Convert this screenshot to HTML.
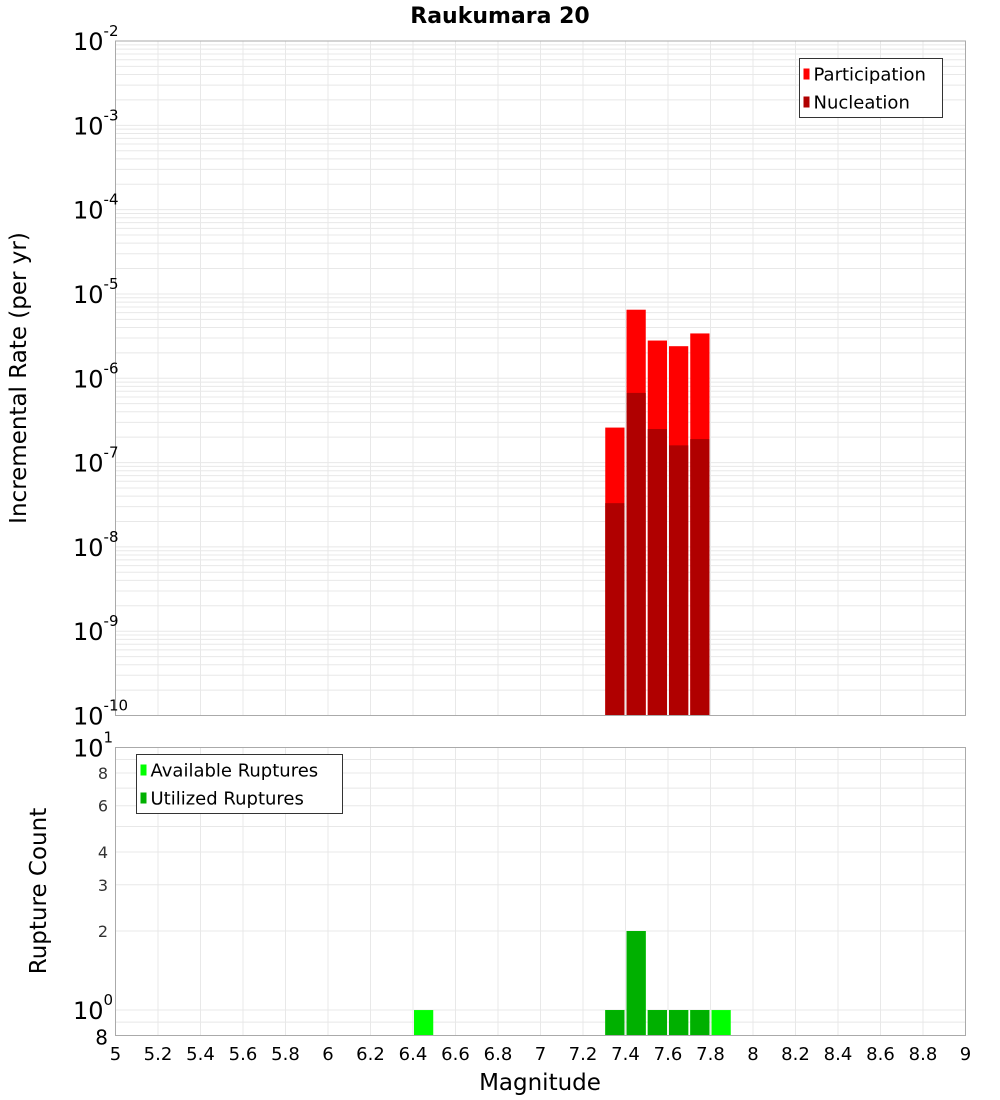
<!DOCTYPE html>
<html><head><meta charset="utf-8"><style>
html,body{margin:0;padding:0;background:#fff;}
svg{display:block;font-family:"DejaVu Sans","Liberation Sans",sans-serif;}
</style></head><body>
<svg id="chart" width="1000" height="1100" viewBox="0 0 1000 1100" xmlns="http://www.w3.org/2000/svg">
<text x="500" y="23" text-anchor="middle" font-size="22" font-weight="bold">Raukumara 20</text>
<g id="topPlot"></g>
<g id="botPlot"></g>
<text transform="translate(26,378) rotate(-90)" text-anchor="middle" font-size="23">Incremental Rate (per yr)</text>
<text transform="translate(46,891) rotate(-90)" text-anchor="middle" font-size="23">Rupture Count</text>
<text x="540" y="1090" text-anchor="middle" font-size="23">Magnitude</text>
</svg>
<script>
const magBins = [6.45, 7.35, 7.45, 7.55, 7.65, 7.75, 7.85];
const rateMags = [7.35, 7.45, 7.55, 7.65, 7.75];
const participation = [2.6e-7, 6.5e-6, 2.8e-6, 2.4e-6, 3.4e-6];
const nucleation = [3.3e-8, 6.7e-7, 2.5e-7, 1.6e-7, 1.9e-7];
const available = [1, 1, 2, 1, 1, 1, 1];
const utilized = [0, 1, 2, 1, 1, 1, 0];
const xTicks = [5,5.2,5.4,5.6,5.8,6,6.2,6.4,6.6,6.8,7,7.2,7.4,7.6,7.8,8,8.2,8.4,8.6,8.8,9];
const rateDecades = [-2,-3,-4,-5,-6,-7,-8,-9,-10];
const countMinorTicks = [8,6,4,3,2];

const NS="http://www.w3.org/2000/svg";
const L=115.5,R=965.5,T1=41,B1=715.5,T2=747.5,B2=1035.5;
const xs=m=>L+(m-5)/4*(R-L);
const yTop=v=>T1+(-2-Math.log10(v))/8*(B1-T1);
const cMin=0.8,cMax=10;
const yBot=v=>T2+(Math.log10(cMax)-Math.log10(v))/(Math.log10(cMax)-Math.log10(cMin))*(B2-T2);
function mk(tag,attrs,parent,txt){const e=document.createElementNS(NS,tag);for(const k in attrs)e.setAttribute(k,attrs[k]);if(txt!==undefined)e.textContent=txt;parent.appendChild(e);return e;}
const topG=document.getElementById('topPlot'),botG=document.getElementById('botPlot');
const grid='#e8e8e8';
for(let d=-10;d<-2;d++){for(let k=1;k<10;k++){const y=yTop(k*Math.pow(10,d));
 const g=mk('line',{x1:L,x2:R,y1:y,y2:y,stroke:grid,'stroke-width':1},topG);
 
 }}
xTicks.forEach(m=>{const x=xs(m);
 const g=mk('line',{x1:x,x2:x,y1:T1,y2:B1,stroke:grid},topG);
 
 
 const g2=mk('line',{x1:x,x2:x,y1:T2,y2:B2,stroke:grid},botG);
 
 });
[0.9,1,2,3,4,5,6,7,8,9].forEach(v=>{const y=yBot(v);const g=mk('line',{x1:L,x2:R,y1:y,y2:y,stroke:grid},botG);
 
 });
const bw=(R-L)/40;
rateMags.forEach((m,i)=>{const x=xs(m)-bw/2+1;
 const p=mk('rect',{x:x,y:yTop(participation[i]),width:bw-2,height:B1-yTop(participation[i]),fill:'#ff0000'},topG);
 
 
 const n=mk('rect',{x:x,y:yTop(nucleation[i]),width:bw-2,height:B1-yTop(nucleation[i]),fill:'#b00000'},topG);
 
 });
magBins.forEach((m,i)=>{const x=xs(m)-bw/2+1;
 if(available[i]>0){const a=mk('rect',{x:x,y:yBot(available[i]),width:bw-2,height:B2-yBot(available[i]),fill:'#00ff00'},botG);
 
 }
 if(utilized[i]>0){const u=mk('rect',{x:x,y:yBot(utilized[i]),width:bw-2,height:B2-yBot(utilized[i]),fill:'#00b000'},botG);
 
 }});
const f1=mk('rect',{x:L,y:T1,width:R-L,height:B1-T1,fill:'none',stroke:'#aaa'},topG);


const f2=mk('rect',{x:L,y:T2,width:R-L,height:B2-T2,fill:'none',stroke:'#aaa'},botG);


rateDecades.forEach(d=>{const y=yTop(Math.pow(10,d));
 const t=mk('text',{x:73,y:y+9,'font-size':24},topG);
 
 
 mk('tspan',{},t,'10');mk('tspan',{dy:-14,'font-size':15},t,String(d));});
[[10,'1'],[1,'0']].forEach(([v,e])=>{const y=yBot(v);
 const t=mk('text',{x:73,y:y+9,'font-size':24},botG);
 
 
 mk('tspan',{},t,'10');mk('tspan',{dy:-14,'font-size':15},t,e);});
countMinorTicks.forEach(v=>{const y=yBot(v);
 const t=mk('text',{x:108,y:y+6,'font-size':16,fill:'#333','text-anchor':'end'},botG,String(v));
 
 });
const t8=mk('text',{x:108,y:B2+9,'font-size':20,'text-anchor':'end'},botG,'8');


xTicks.forEach(m=>{const t=mk('text',{x:xs(m),y:1060,'font-size':18,'text-anchor':'middle'},botG,String(m));
 
 });
function legend(parent,x,y,w,items,name){const g=mk('g',{},parent);
 
 
 mk('rect',{x:x,y:y,width:w,height:59,fill:'#fff',stroke:'#333'},g);
 items.forEach(([c,l],i)=>{const yy=y+15+i*28;
  const s=mk('rect',{x:x+4,y:yy-5,width:6,height:11,fill:c},g);
  
  
  const t=mk('text',{x:x+14,y:yy+7,'font-size':18},g,l);
  
  });}
legend(topG,799.5,58.5,143,[['#ff0000','Participation'],['#b00000','Nucleation']],'rate-legend');
legend(botG,136.5,754.5,206,[['#00ff00','Available Ruptures'],['#00b000','Utilized Ruptures']],'count-legend');
</script>
</body></html>
